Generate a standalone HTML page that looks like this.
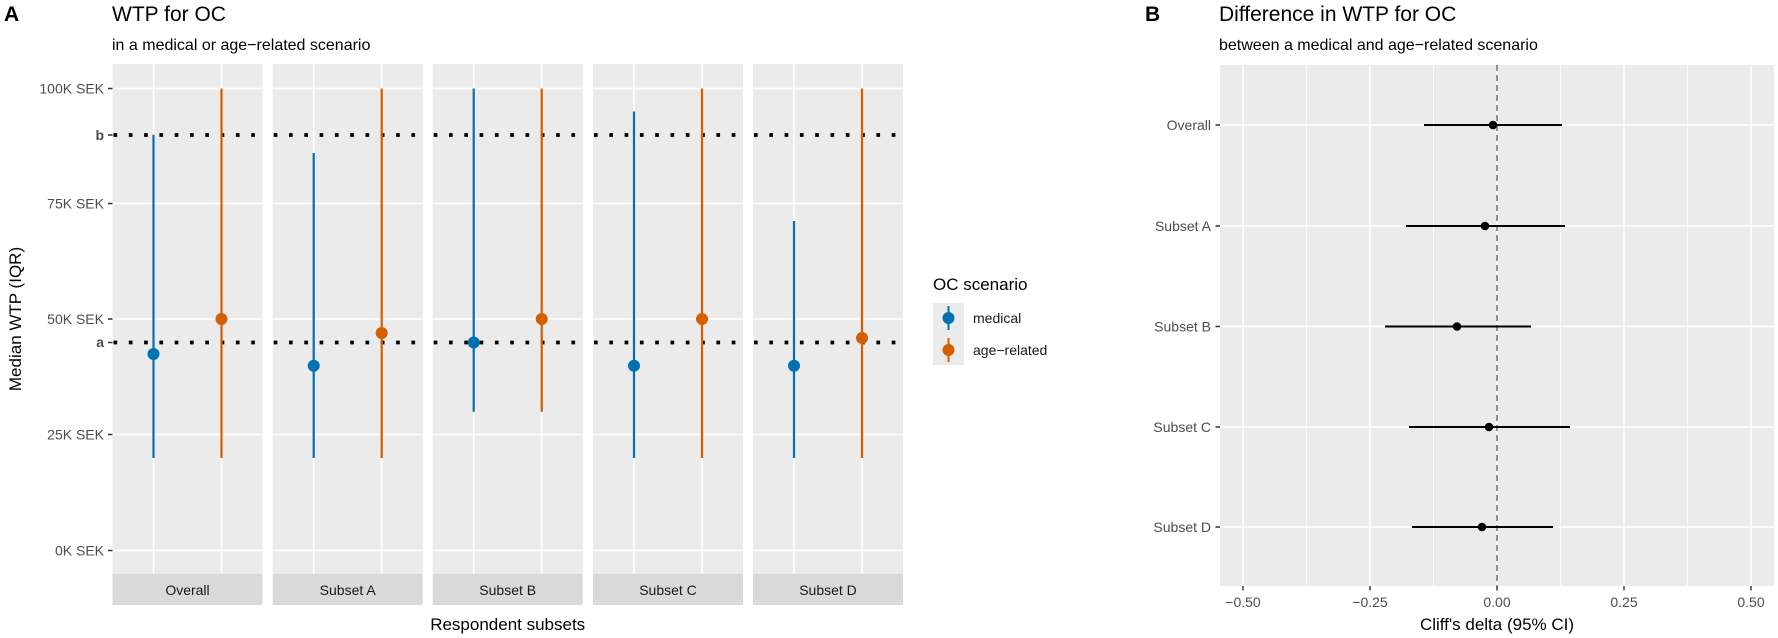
<!DOCTYPE html>
<html><head><meta charset="utf-8"><style>
html,body{margin:0;padding:0;background:#fff;}
svg{display:block;font-family:"Liberation Sans",Arial,sans-serif;}
</style></head><body>
<svg width="1778" height="638" viewBox="0 0 1778 638" xmlns="http://www.w3.org/2000/svg">
<!-- Panel A titles -->
<text x="4" y="21" font-size="21" font-weight="bold">A</text>
<text x="112" y="21" font-size="21">WTP for OC</text>
<text x="112" y="50" font-size="16">in a medical or age−related scenario</text>

<!-- Facets -->
<g id="facets">
</g>
<script>
</script>
<!-- Facet backgrounds -->
<g fill="#EBEBEB">
<rect x="112.5" y="64" width="150" height="510"/>
<rect x="272.7" y="64" width="150" height="510"/>
<rect x="432.7" y="64" width="150" height="510"/>
<rect x="593" y="64" width="150" height="510"/>
<rect x="753" y="64" width="150" height="510"/>
</g>
<g fill="#D9D9D9">
<rect x="112.5" y="574" width="150" height="31"/>
<rect x="272.7" y="574" width="150" height="31"/>
<rect x="432.7" y="574" width="150" height="31"/>
<rect x="593" y="574" width="150" height="31"/>
<rect x="753" y="574" width="150" height="31"/>
</g>
<g font-size="14" fill="#1A1A1A" text-anchor="middle">
<text x="187.5" y="595">Overall</text>
<text x="347.7" y="595">Subset A</text>
<text x="507.7" y="595">Subset B</text>
<text x="668" y="595">Subset C</text>
<text x="828" y="595">Subset D</text>
</g>
<!-- gridlines -->
<g stroke="#fff" stroke-width="1.6">
<path d="M112.5 88.5H262.5M272.7 88.5H422.7M432.7 88.5H582.7M593 88.5H743M753 88.5H903"/>
<path d="M112.5 203.5H262.5M272.7 203.5H422.7M432.7 203.5H582.7M593 203.5H743M753 203.5H903"/>
<path d="M112.5 319H262.5M272.7 319H422.7M432.7 319H582.7M593 319H743M753 319H903"/>
<path d="M112.5 434.5H262.5M272.7 434.5H422.7M432.7 434.5H582.7M593 434.5H743M753 434.5H903"/>
<path d="M112.5 550.5H262.5M272.7 550.5H422.7M432.7 550.5H582.7M593 550.5H743M753 550.5H903"/>
<path d="M153.5 64V574M221.5 64V574M313.7 64V574M381.7 64V574M473.7 64V574M541.7 64V574M634 64V574M702 64V574M794 64V574M862 64V574"/>
</g>
<!-- dotted reference lines -->
<g stroke="#000" stroke-width="3.7" stroke-dasharray="3.7 11.6">
<path d="M113.5 135H262.5M273.7 135H422.7M433.7 135H582.7M594 135H743M754 135H903"/>
<path d="M113.5 342.5H262.5M273.7 342.5H422.7M433.7 342.5H582.7M594 342.5H743M754 342.5H903"/>
</g>
<!-- series -->
<g stroke-width="2.2">
<g stroke="#0072B2">
<path d="M153.5 458V134.8"/>
<path d="M313.7 458V153"/>
<path d="M473.7 411.9V88.5"/>
<path d="M634 458V111.5"/>
<path d="M794 458V221"/>
</g>
<g stroke="#D55E00">
<path d="M221.5 458V88.5"/>
<path d="M381.7 458V88.5"/>
<path d="M541.7 411.9V88.5"/>
<path d="M702 458V88.5"/>
<path d="M862 458V88.5"/>
</g>
</g>
<g fill="#0072B2">
<circle cx="153.5" cy="354" r="6"/>
<circle cx="313.7" cy="365.7" r="6"/>
<circle cx="473.7" cy="342.5" r="6"/>
<circle cx="634" cy="365.7" r="6"/>
<circle cx="794" cy="365.7" r="6"/>
</g>
<g fill="#D55E00">
<circle cx="221.5" cy="319" r="6"/>
<circle cx="381.7" cy="333" r="6"/>
<circle cx="541.7" cy="319" r="6"/>
<circle cx="702" cy="319" r="6"/>
<circle cx="862" cy="338" r="6"/>
</g>
<!-- y axis A -->
<g stroke="#333" stroke-width="1.4">
<path d="M108 88.5H112.5M108 135H112.5M108 203.5H112.5M108 319H112.5M108 342.5H112.5M108 434.5H112.5M108 550.5H112.5"/>
</g>
<g font-size="14" fill="#4D4D4D" text-anchor="end">
<text x="104" y="93.5">100K SEK</text>
<text x="104" y="140" font-weight="bold">b</text>
<text x="104" y="208.5">75K SEK</text>
<text x="104" y="324">50K SEK</text>
<text x="104" y="347" font-weight="bold">a</text>
<text x="104" y="439.5">25K SEK</text>
<text x="104" y="555.5">0K SEK</text>
</g>
<text transform="translate(21,319) rotate(-90)" font-size="17" text-anchor="middle">Median WTP (IQR)</text>
<text x="507.7" y="630" font-size="17" text-anchor="middle">Respondent subsets</text>

<!-- Legend -->
<text x="933" y="290" font-size="17">OC scenario</text>
<rect x="933" y="303" width="31" height="62" fill="#EBEBEB"/>
<path d="M948.5 306V330" stroke="#0072B2" stroke-width="2"/>
<circle cx="948.5" cy="318" r="6" fill="#0072B2"/>
<path d="M948.5 338V362" stroke="#D55E00" stroke-width="2"/>
<circle cx="948.5" cy="350" r="6" fill="#D55E00"/>
<text x="973" y="323" font-size="14" fill="#1A1A1A">medical</text>
<text x="973" y="355" font-size="14" fill="#1A1A1A">age−related</text>

<!-- Panel B -->
<text x="1145" y="21" font-size="21" font-weight="bold">B</text>
<text x="1219" y="21" font-size="21">Difference in WTP for OC</text>
<text x="1219" y="50" font-size="16">between a medical and age−related scenario</text>
<rect x="1220" y="65" width="554" height="521" fill="#EBEBEB"/>
<g stroke="#fff" stroke-width="0.8">
<path d="M1306.5 65V586M1433.5 65V586M1560.5 65V586M1687.5 65V586"/>
</g>
<g stroke="#fff" stroke-width="1.6">
<path d="M1243 65V586M1370 65V586M1497 65V586M1624 65V586M1751 65V586"/>
<path d="M1220 125H1774M1220 226H1774M1220 326.5H1774M1220 427H1774M1220 527H1774"/>
</g>
<path d="M1497 65V586" stroke="#666" stroke-width="1.4" stroke-dasharray="6 4"/>
<g stroke="#000" stroke-width="2">
<path d="M1424 125H1562M1406 226H1565M1385 326.5H1531M1409 427H1570M1412 527H1553"/>
</g>
<g fill="#000">
<circle cx="1493" cy="125" r="4.3"/>
<circle cx="1485" cy="226" r="4.3"/>
<circle cx="1457" cy="326.5" r="4.3"/>
<circle cx="1489" cy="427" r="4.3"/>
<circle cx="1482" cy="527" r="4.3"/>
</g>
<g stroke="#333" stroke-width="1.4">
<path d="M1215.5 125H1220M1215.5 226H1220M1215.5 326.5H1220M1215.5 427H1220M1215.5 527H1220"/>
<path d="M1243 586V590.5M1370 586V590.5M1497 586V590.5M1624 586V590.5M1751 586V590.5"/>
</g>
<g font-size="14" fill="#4D4D4D" text-anchor="end">
<text x="1211" y="130">Overall</text>
<text x="1211" y="231">Subset A</text>
<text x="1211" y="331.5">Subset B</text>
<text x="1211" y="432">Subset C</text>
<text x="1211" y="532">Subset D</text>
</g>
<g font-size="14" fill="#4D4D4D" text-anchor="middle">
<text x="1243" y="607">−0.50</text>
<text x="1370" y="607">−0.25</text>
<text x="1497" y="607">0.00</text>
<text x="1624" y="607">0.25</text>
<text x="1751" y="607">0.50</text>
</g>
<text x="1497" y="630" font-size="17" text-anchor="middle">Cliff's delta (95% CI)</text>
</svg>
</body></html>
